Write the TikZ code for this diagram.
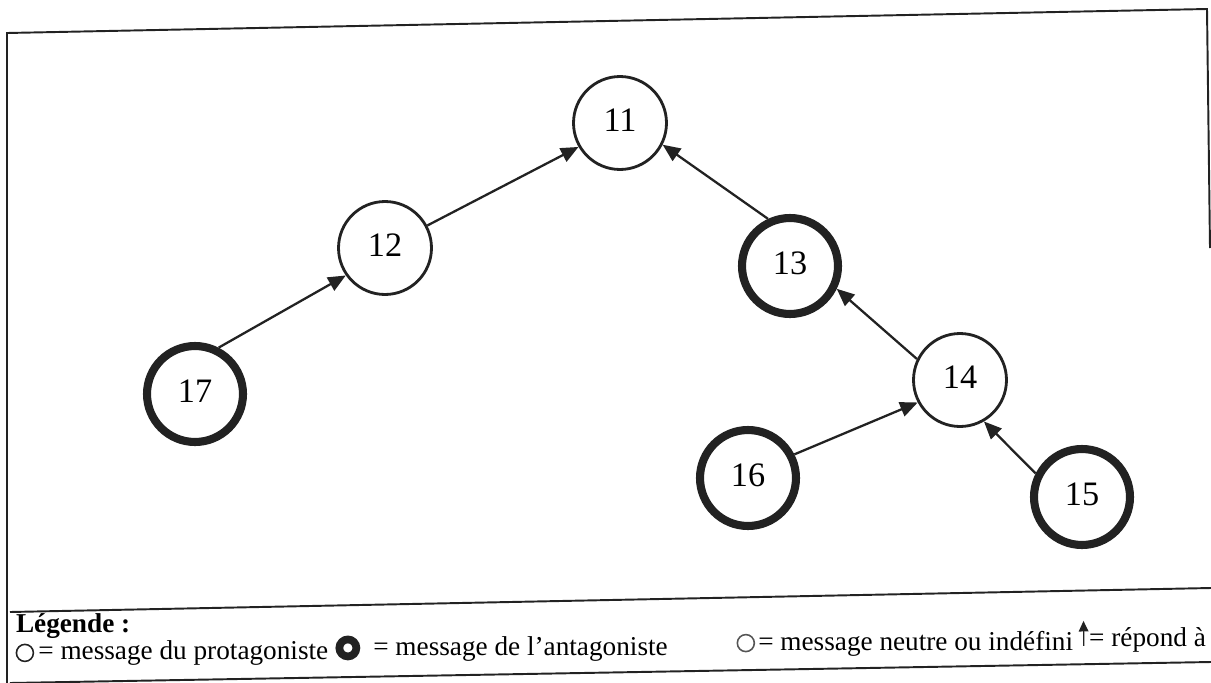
\documentclass[tikz,border=0pt]{standalone}
\usepackage{fontspec}
\setmainfont{Liberation Serif}
\usetikzlibrary{
  arrows.meta
}
\definecolor{ink}{HTML}{222222}
\definecolor{neutral}{HTML}{555555}
\tikzset{
  message/.style={
    circle,
    draw=ink,
    line width=1.6pt,
    minimum size=1.86cm,
    inner sep=0pt,
    text depth=0.3em,
    font=\fontsize{19.5}{21}\selectfont
  },
  antagonist/.style={
    message,
    line width=4.6pt,
    minimum size=1.92cm
  },
  reply/.style={
    -{Triangle[length=10pt,width=8.5pt]},
    line width=1.3pt,
    draw=ink
  },
  frame/.style={
    line width=1.1pt,
    draw=ink
  },
  legendtext/.style={
    anchor=base west,
    inner sep=0pt,
    font=\fontsize{15.5}{17}\selectfont
  },
  legendsym/.style={
    circle,
    draw=ink,
    line width=0.9pt,
    minimum size=0.34cm,
    inner sep=0pt
  }
}

\begin{document}
\begin{tikzpicture}[x=0.02cm, y=-0.02cm]
    \useasboundingbox (0,0) rectangle (1211,683);
    % frame of the figure
    \draw[frame] (7,683) -- (7,33) -- (1207,9) -- (1210,248);
    \draw[frame] (10,612) -- (1211,588);
    \draw[frame] (10,683) -- (1211,662);

    % messages of the thread
    \node[message]    (m11) at (620,123) {11};
    \node[message]    (m12) at (385,248) {12};
    \node[antagonist] (m13) at (790,266) {13};
    \node[message]    (m14) at (960,380) {14};
    \node[antagonist] (m15) at (1082,497) {15};
    \node[antagonist] (m16) at (748,478) {16};
    \node[antagonist] (m17) at (195,394) {17};

    % who answers whom
    \draw[reply] (m12.28)  -- (m11.210);
    \draw[reply] (m13.115) -- (m11.-27);
    \draw[reply] (m17.63)  -- (m12.215);
    \draw[reply] (m14.154) -- (m13.-26);
    \draw[reply] (m16.27)  -- (m14.208);
    \draw[reply] (m15.153) -- (m14.-60);

    % legend
    \begin{scope}[rotate around={0.7:(16,660)}]
      \node[legendtext, font=\fontsize{15.5}{17}\selectfont\bfseries]
        (legend) at (16,632) {Légende :};
      \node[legendsym] (symprot) at (25,653) {};
      \node[legendtext] (txtprot) at (38,660) {= message du protagoniste};
      \node[legendsym, line width=4.4pt] (symanta) at (348,652) {};
      \node[legendtext] (txtanta) at (373,660) {= message de l’antagoniste};
      \node[legendsym, draw=neutral] (symneut) at (746,652) {};
      \node[legendtext] (txtneut) at (758,660) {= message neutre ou indéfini};
      \coordinate (replybot) at (1084,659);
      \coordinate (replytop) at (1084,634);
      \draw[-{Triangle[length=6pt,width=5.5pt]}, line width=0.7pt, draw=ink]
        (replybot) -- (replytop);
      \node[legendtext] (txtreply) at (1089,660) {= répond à};
    \end{scope}
\end{tikzpicture}
\end{document}
